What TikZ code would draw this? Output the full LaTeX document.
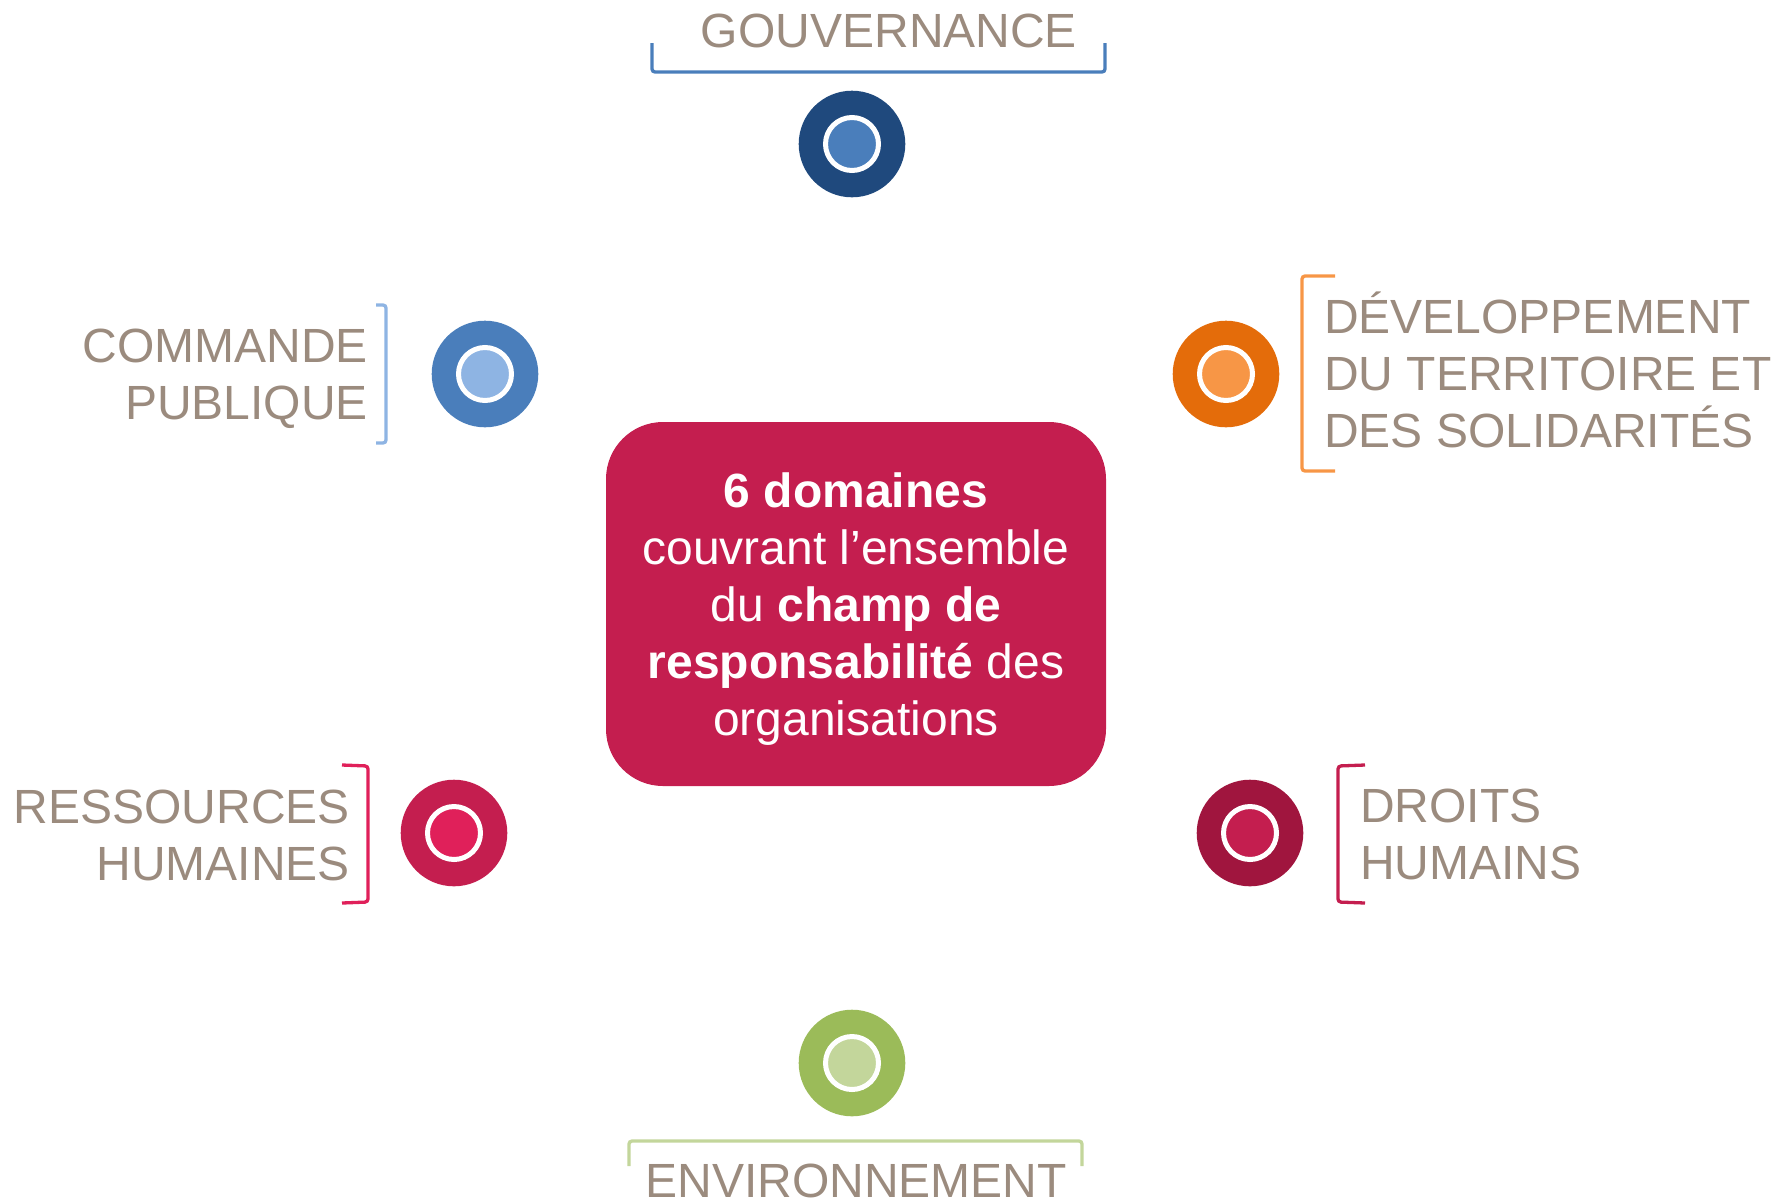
\documentclass[tikz,border=0pt]{standalone}
\usepackage{fontspec}
\setmainfont{Liberation Sans}
\definecolor{txt}{RGB}{155,139,126}
\definecolor{gouvOut}{HTML}{1F497D}
\definecolor{gouvIn}{HTML}{4A7EBB}
\definecolor{comOut}{HTML}{4A7EBB}
\definecolor{comIn}{HTML}{8EB4E3}
\definecolor{devOut}{HTML}{E46C0A}
\definecolor{devIn}{HTML}{F79646}
\definecolor{rhOut}{HTML}{C41E4F}
\definecolor{rhIn}{HTML}{E0205A}
\definecolor{drOut}{HTML}{A0153E}
\definecolor{drIn}{HTML}{C41E4F}
\definecolor{envOut}{HTML}{9BBB59}
\definecolor{envIn}{HTML}{C3D69B}
\definecolor{boxc}{HTML}{C41E4F}
\tikzset{
  dot/.style={circle, minimum size=106.6pt, inner sep=0pt},
  innerdot/.style={circle, minimum size=53pt, inner sep=0pt, draw=white, line width=5pt},
  lbl/.style={text=txt, font=\fontsize{48}{57}\selectfont, inner sep=0pt},
  brk/.style={line width=3.3pt, rounded corners=3pt},
}
\begin{document}
\begin{tikzpicture}[x=1pt,y=-1pt]
\useasboundingbox (0,0) rectangle (1777,1200);
% centre box
\node[fill=boxc, rounded corners=57pt, minimum width=500pt, minimum height=364pt, inner sep=0pt] (box) at (856,604) {};
\node[text=white, font=\fontsize{48}{57}\selectfont, align=center, inner sep=0pt, anchor=base] (boxtxt) at (856,735)
 {\textbf{6 domaines}\\couvrant l’ensemble\\du \textbf{champ de}\\\textbf{responsabilité} des\\organisations};
% circles
\node[dot, fill=gouvOut] (g) at (852,144) {};
\node[innerdot, fill=gouvIn] (gi) at (g) {};
\node[dot, fill=comOut] (c) at (485,374) {};
\node[innerdot, fill=comIn] (ci) at (c) {};
\node[dot, fill=devOut] (d) at (1226,374) {};
\node[innerdot, fill=devIn] (di) at (d) {};
\node[dot, fill=rhOut] (r) at (454,833) {};
\node[innerdot, fill=rhIn] (ri) at (r) {};
\node[dot, fill=drOut] (h) at (1250,833) {};
\node[innerdot, fill=drIn] (hi) at (h) {};
\node[dot, fill=envOut] (e) at (852,1063) {};
\node[innerdot, fill=envIn] (ei) at (e) {};
% labels
\node[lbl, anchor=base] (gt) at (889,47) {GOUVERNANCE};
\node[lbl, anchor=base east, align=right] (ct) at (368,419) {COMMANDE\\PUBLIQUE};
\node[lbl, anchor=base west, align=left] (dt) at (1324,447) {DÉVELOPPEMENT\\DU TERRITOIRE ET\\DES SOLIDARITÉS};
\node[lbl, anchor=base east, align=right] (rt) at (350,880) {RESSOURCES\\HUMAINES};
\node[lbl, anchor=base west, align=left] (ht) at (1360,879) {DROITS\\HUMAINS};
\node[lbl, anchor=base] (et) at (856,1197) {ENVIRONNEMENT};
% brackets
\draw[brk, draw=gouvIn] (652,43) -- (652,72) -- (1105,72) -- (1105,43);
\draw[brk, draw=comIn] (376,305) -- (386,305) -- (386,443) -- (376,443);
\draw[brk, draw=devIn] (1335,276) -- (1302,276) -- (1302,471) -- (1335,471);
\draw[brk, draw=rhIn] (342,765) -- (368,766) -- (368,902) -- (342,903);
\draw[brk, draw=drIn] (1365,765) -- (1338,766) -- (1338,902) -- (1365,903);
\draw[brk, draw=envIn] (629,1166) -- (629,1141) -- (1082,1141) -- (1082,1166);
\end{tikzpicture}
\end{document}
